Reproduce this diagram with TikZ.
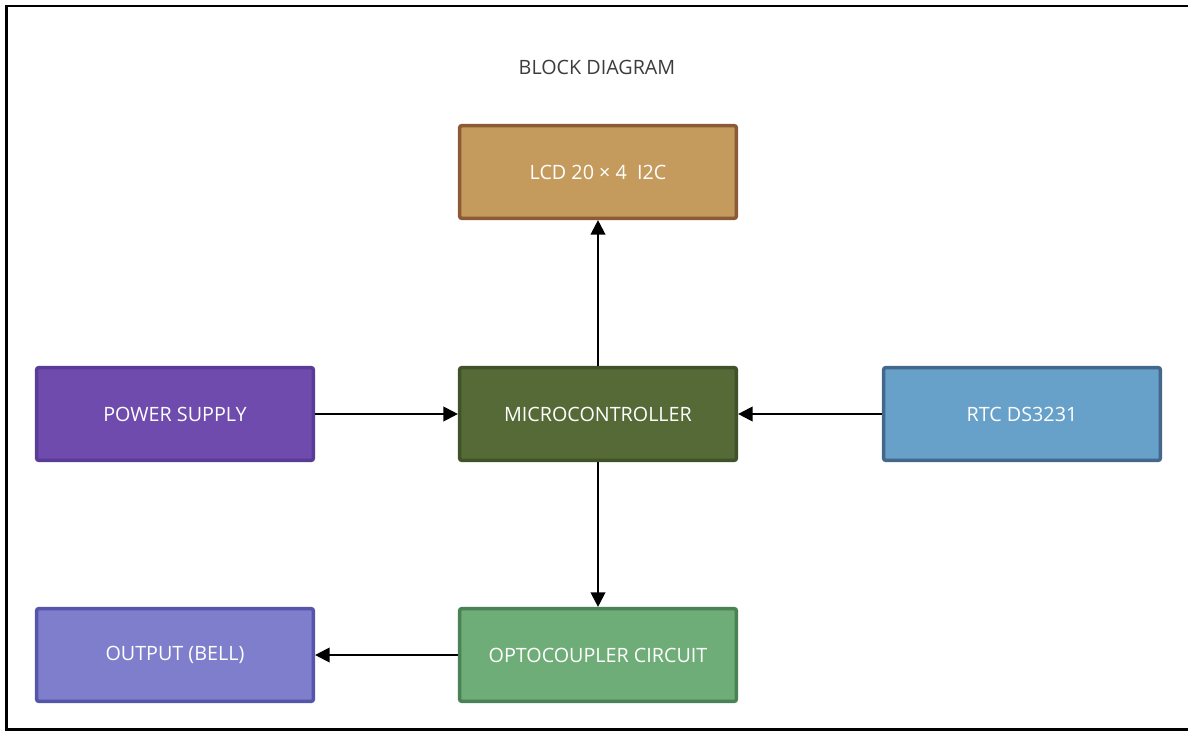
\documentclass[tikz,border=0pt]{standalone}
\usepackage{fontspec}
\setmainfont{Open Sans}
\usetikzlibrary{arrows.meta}
\definecolor{lcdF}{RGB}{197,155,93}\definecolor{lcdD}{RGB}{140,90,55}
\definecolor{psF}{RGB}{111,75,174}\definecolor{psD}{RGB}{88,60,150}
\definecolor{mcF}{RGB}{85,106,54}\definecolor{mcD}{RGB}{64,82,40}
\definecolor{rtcF}{RGB}{103,160,200}\definecolor{rtcD}{RGB}{68,104,140}
\definecolor{outF}{RGB}{126,126,204}\definecolor{outD}{RGB}{85,85,170}
\definecolor{opF}{RGB}{110,173,119}\definecolor{opD}{RGB}{75,130,85}
\definecolor{titleC}{RGB}{60,60,60}
\tikzset{
  blockbox/.style={rectangle, rounded corners=1.5pt, line width=2.6pt,
    minimum width=207.5pt, minimum height=69.5pt, inner sep=0pt,
    text=white, font=\fontsize{14.8pt}{17pt}\selectfont},
  conn/.style={line width=1.6pt, black, -{Triangle[length=11pt,width=11pt]}},
  frame/.style={line width=2pt, black}
}
\begin{document}
\begin{tikzpicture}[x=0.75pt,y=-0.75pt]
\useasboundingbox (0,0) rectangle (1188,731);
\draw[frame] (1188,6) -- (6.5,6) -- (6.5,729.5) -- (1188,729.5);
\node[text=titleC, font=\fontsize{14.8pt}{17pt}\selectfont] (title) at (597,67) {BLOCK DIAGRAM};
\node[blockbox, fill=lcdF, draw=lcdD] (lcd) at (598,172) {LCD 20 × 4\ \ I2C};
\node[blockbox, fill=psF, draw=psD] (ps) at (175,414) {POWER SUPPLY};
\node[blockbox, fill=mcF, draw=mcD] (mc) at (598,414) {MICROCONTROLLER};
\node[blockbox, fill=rtcF, draw=rtcD] (rtc) at (1022,414) {RTC DS3231};
\node[blockbox, fill=outF, draw=outD] (out) at (175,655) {OUTPUT (BELL)};
\node[blockbox, fill=opF, draw=opD] (op) at (598,655) {OPTOCOUPLER CIRCUIT};
\draw[conn] (mc.north) -- (lcd.south);
\draw[conn] (ps.east) -- (mc.west);
\draw[conn] (rtc.west) -- (mc.east);
\draw[conn] (mc.south) -- (op.north);
\draw[conn] (op.west) -- (out.east);
\end{tikzpicture}
\end{document}
